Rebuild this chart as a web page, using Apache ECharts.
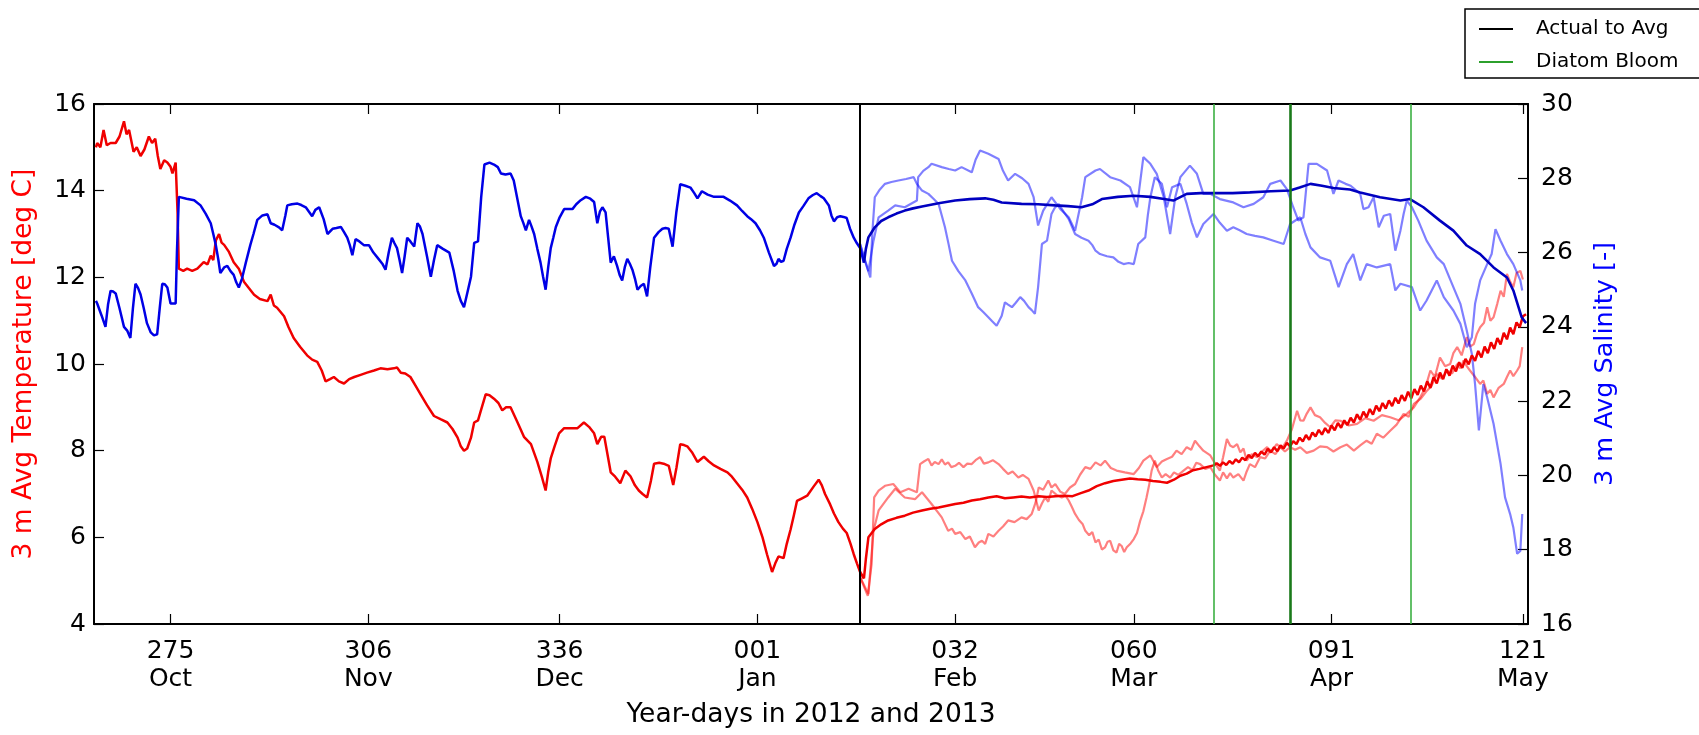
<!DOCTYPE html>
<html>
<head>
<meta charset="utf-8">
<script src="https://cdn.jsdelivr.net/npm/echarts@6/dist/echarts.min.js"></script>
<style>
  html, body { margin: 0; padding: 0; background: #fff; }
  #chart { width: 1699px; height: 735px; }
</style>
</head>
<body>
<div id="chart"></div>
<script>
// x ticks: continuous year-day (2013 days are offset by 366)
var tickDays = [275, 306, 336, 367, 398, 426, 457, 487];
var tickDayLabels = ['275', '306', '336', '001', '032', '060', '091', '121'];
var tickMonthLabels = ['Oct', 'Nov', 'Dec', 'Jan', 'Feb', 'Mar', 'Apr', 'May'];

var actualToAvgDay = 383;
var bloomDays = [438.5, 450.5, 469.4];

// 3 m average temperature, 2012-13 observations
var tempActual = [[263.3,15.0],[263.5,15.1],[264.0,15.0],[264.5,15.4],[265,15.05],[265.6,15.1],[266.4,15.1],[267.0,15.25],[267.7,15.6],[268.1,15.3],[268.5,15.4],[269.2,14.9],[269.7,15.0],[270.3,14.8],[270.9,14.95],[271.6,15.25],[272.1,15.1],[272.6,15.2],[273.0,14.8],[273.4,14.5],[274.0,14.7],[274.5,14.65],[275.0,14.55],[275.3,14.4],[275.8,14.65],[276.1,13.5],[276.3,12.2],[277.0,12.15],[277.6,12.2],[278.4,12.15],[279.2,12.2],[280.2,12.35],[280.8,12.3],[281.3,12.5],[281.7,12.4],[282.1,12.85],[282.6,13.0],[283.0,12.8],[283.4,12.75],[284.1,12.6],[284.9,12.35],[285.7,12.2],[286.5,11.9],[287.3,11.75],[288.1,11.6],[289.0,11.5],[290.2,11.45],[290.7,11.6],[291.2,11.35],[291.7,11.3],[292.8,11.1],[293.5,10.85],[294.3,10.6],[295.3,10.4],[296.4,10.2],[297.2,10.1],[298.0,10.05],[298.7,9.85],[299.3,9.6],[300.0,9.65],[300.6,9.7],[301.4,9.6],[302.2,9.55],[303.0,9.65],[303.8,9.7],[304.8,9.75],[305.8,9.8],[306.9,9.85],[307.9,9.9],[309.0,9.88],[310.0,9.9],[310.5,9.92],[311.1,9.8],[311.8,9.78],[312.6,9.7],[313.4,9.5],[314.2,9.3],[315.2,9.05],[316.3,8.8],[317.4,8.72],[318.4,8.65],[319.2,8.5],[320.0,8.3],[320.5,8.1],[321.0,8.0],[321.5,8.05],[322.1,8.3],[322.6,8.65],[323.2,8.7],[323.6,8.9],[324.4,9.3],[325.0,9.28],[325.7,9.2],[326.4,9.1],[327.0,8.93],[327.6,9.0],[328.3,9.0],[329.4,8.65],[330.4,8.32],[331.5,8.15],[332.5,7.74],[333.2,7.4],[333.8,7.08],[334.2,7.5],[334.6,7.82],[335.2,8.1],[335.9,8.4],[336.7,8.52],[337.8,8.52],[338.8,8.52],[339.8,8.65],[340.6,8.55],[341.4,8.4],[341.9,8.15],[342.5,8.32],[343.0,8.32],[344.0,7.5],[344.7,7.4],[345.5,7.25],[346.3,7.54],[347.1,7.41],[347.8,7.2],[348.4,7.08],[349.0,7.0],[349.7,6.92],[350.3,7.3],[350.8,7.7],[351.6,7.72],[352.3,7.7],[353.1,7.65],[353.8,7.21],[354.3,7.6],[354.9,8.15],[355.5,8.13],[356.0,8.1],[356.8,7.95],[357.6,7.74],[358.6,7.86],[359.4,7.75],[360.2,7.66],[361.2,7.58],[362.3,7.5],[363.0,7.4],[363.8,7.25],[364.6,7.1],[365.4,6.92],[366.2,6.65],[367.0,6.35],[367.8,6.0],[368.5,5.61],[369.3,5.2],[369.8,5.4],[370.3,5.56],[371.1,5.52],[371.6,5.85],[372.2,6.18],[372.7,6.5],[373.2,6.84],[374.0,6.9],[374.8,6.96],[375.8,7.17],[376.6,7.33],[377.1,7.2],[377.6,7.0],[378.4,6.76],[379.0,6.55],[379.7,6.35],[380.4,6.2],[381.0,6.1],[381.6,5.85],[382.1,5.61],[382.6,5.4],[383.1,5.2],[383.7,5.05]];

// average temperature continued past the actual data
var tempAvg = [[383.7,5.05],[384.0,5.5],[384.4,6.0],[385.4,6.19],[386.4,6.3],[387.5,6.39],[388.8,6.45],[390.1,6.5],[391.4,6.57],[392.8,6.62],[394.1,6.66],[395.4,6.69],[396.7,6.73],[398.0,6.77],[399.3,6.8],[400.6,6.85],[401.9,6.88],[403.2,6.92],[404.5,6.95],[405.8,6.9],[407.1,6.92],[408.4,6.94],[409.7,6.92],[411.1,6.95],[412.4,6.93],[413.7,6.95],[415.0,6.96],[416.4,6.95],[417.7,7.02],[418.9,7.08],[420.2,7.18],[421.5,7.25],[422.8,7.3],[424.1,7.33],[425.4,7.36],[426.6,7.34],[427.8,7.33],[429.0,7.3],[430.2,7.28],[431.2,7.26],[432.3,7.33],[433.3,7.42],[434.3,7.47],[435.3,7.55],[436.3,7.58],[437.4,7.62],[438.5,7.66],[439.0,7.71],[439.5,7.65],[440.0,7.73],[440.5,7.67],[441.0,7.76],[441.5,7.7],[442.0,7.8],[442.5,7.73],[443.0,7.84],[443.5,7.78],[444.0,7.9],[444.5,7.83],[445.0,7.95],[445.5,7.87],[446.0,7.98],[446.5,7.91],[447.0,8.04],[447.5,7.96],[448.0,8.08],[448.5,7.99],[449.0,8.12],[449.5,8.05],[450.0,8.18],[450.5,8.1],[451.0,8.22],[451.5,8.15],[452.0,8.3],[452.5,8.21],[453.0,8.36],[453.5,8.25],[454.0,8.42],[454.5,8.33],[455.0,8.48],[455.5,8.37],[456.0,8.52],[456.5,8.41],[457.0,8.58],[457.5,8.47],[458.0,8.64],[458.5,8.53],[459.0,8.7],[459.5,8.59],[460.0,8.76],[460.5,8.65],[461.0,8.84],[461.5,8.71],[462.0,8.9],[462.5,8.77],[463.0,8.96],[463.5,8.83],[464.0,9.04],[464.5,8.91],[465.0,9.1],[465.5,8.97],[466.0,9.16],[466.5,9.03],[467.0,9.22],[467.5,9.09],[468.0,9.28],[468.5,9.15],[469.0,9.36],[469.5,9.21],[470.0,9.42],[470.5,9.29],[471.0,9.5],[471.5,9.37],[472.0,9.6],[472.5,9.45],[473.0,9.7],[473.5,9.55],[474.0,9.8],[474.5,9.65],[475.0,9.88],[475.5,9.73],[476.0,9.96],[476.5,9.83],[477.0,10.04],[477.5,9.91],[478.0,10.12],[478.5,9.99],[479.0,10.2],[479.5,10.07],[480.0,10.3],[480.5,10.15],[481.0,10.4],[481.5,10.25],[482.0,10.5],[482.5,10.35],[483.0,10.6],[483.5,10.45],[484.0,10.72],[484.5,10.57],[485.0,10.84],[485.5,10.69],[486.0,10.96],[486.5,10.85],[487.0,11.1],[487.5,11.15]];

// earlier years, same period
var tempYearA = [[383.1,5.08],[384.3,4.65],[384.9,5.38],[385.3,6.92],[386.0,7.08],[387.0,7.19],[388.3,7.23],[389.4,7.04],[390.7,7.12],[392.0,7.04],[392.5,7.69],[393.1,7.75],[393.8,7.81],[394.3,7.66],[394.8,7.74],[395.4,7.69],[395.9,7.8],[396.4,7.68],[396.9,7.73],[397.4,7.62],[398.0,7.65],[398.6,7.72],[399.3,7.62],[399.9,7.7],[400.6,7.69],[401.2,7.78],[401.9,7.85],[402.5,7.7],[403.2,7.73],[403.9,7.78],[404.8,7.69],[405.5,7.58],[406.3,7.46],[407.0,7.52],[407.9,7.38],[408.6,7.44],[409.5,7.35],[410.3,7.08],[411.1,6.62],[411.6,6.78],[412.1,6.92],[412.6,6.82],[413.1,7.08],[413.9,6.98],[414.7,6.92],[415.3,6.96],[415.8,6.85],[416.3,6.7],[416.8,6.54],[417.4,6.4],[418.0,6.3],[418.4,6.15],[419.0,6.05],[419.5,6.12],[420.0,5.88],[420.5,5.95],[421.0,5.72],[421.5,5.77],[421.9,5.9],[422.3,5.92],[422.8,5.7],[423.3,5.65],[423.7,5.85],[424.1,5.8],[424.5,5.66],[424.9,5.77],[425.5,5.86],[426.0,5.96],[426.5,6.1],[427.0,6.38],[427.5,6.6],[428.0,6.92],[428.4,7.2],[428.8,7.54],[429.3,7.77],[429.8,7.55],[430.4,7.38],[431.0,7.46],[431.7,7.38],[432.3,7.5],[433.0,7.44],[433.8,7.54],[434.5,7.62],[435.2,7.55],[435.8,7.72],[436.4,7.69],[437.2,7.58],[438.0,7.62],[438.7,7.45],[439.5,7.31],[440.0,7.5],[440.6,7.36],[441.1,7.48],[441.6,7.38],[442.4,7.46],[443.2,7.31],[443.7,7.52],[444.2,7.69],[445.0,7.62],[445.8,7.85],[446.6,7.82],[447.4,8.0],[448.2,7.92],[449.0,8.08],[449.7,7.98],[450.5,8.08],[451.3,8.02],[452.1,8.08],[453.1,7.95],[454.2,8.0],[455.2,8.1],[456.3,8.08],[457.3,7.98],[458.4,8.08],[459.4,8.14],[460.5,8.0],[461.5,8.12],[462.5,8.23],[463.3,8.16],[464.1,8.39],[465.1,8.3],[466.2,8.46],[467.2,8.6],[468.3,8.85],[469.1,8.78],[469.9,9.08],[471.0,9.2],[472.0,9.39],[472.7,9.5],[473.5,9.77],[474.3,9.66],[475.1,9.85],[475.9,9.78],[476.7,10.0],[477.2,9.9],[477.7,10.08],[478.2,9.95],[478.7,9.85],[479.5,9.7],[480.3,9.54],[480.8,9.62],[481.4,9.31],[481.9,9.4],[482.4,9.23],[483.2,9.45],[484.0,9.54],[484.5,9.7],[485.0,9.85],[485.5,9.72],[486.1,9.85],[486.5,9.95],[486.9,10.39]];
var tempYearB = [[383.1,5.08],[384.4,4.69],[385.2,6.15],[386.0,6.62],[387.5,6.92],[388.6,7.12],[390.1,6.92],[391.7,6.88],[392.8,7.04],[394.3,6.77],[395.9,6.46],[396.9,6.15],[397.5,6.2],[398.0,6.08],[398.8,6.12],[399.6,5.96],[400.3,6.02],[401.1,5.77],[401.7,5.88],[402.2,5.92],[402.7,5.85],[403.2,6.08],[404.0,6.02],[404.8,6.15],[405.5,6.25],[406.3,6.39],[407.3,6.35],[408.4,6.46],[409.2,6.42],[410.0,6.54],[410.6,6.8],[411.1,7.15],[411.8,7.1],[412.6,7.31],[413.1,7.15],[413.7,7.23],[414.5,7.05],[415.2,7.0],[416.0,7.15],[416.8,7.23],[417.6,7.45],[418.4,7.62],[419.2,7.58],[420.0,7.73],[420.8,7.66],[421.5,7.77],[422.4,7.6],[423.3,7.54],[424.6,7.5],[426.0,7.46],[426.8,7.6],[427.5,7.77],[428.6,7.89],[429.6,7.62],[430.4,7.75],[431.2,7.81],[432.0,7.86],[432.7,8.0],[433.5,7.92],[434.3,8.08],[435.0,8.02],[435.6,8.23],[436.3,8.1],[436.9,8.0],[438.0,7.89],[438.8,7.69],[439.5,7.54],[440.0,7.85],[440.6,8.27],[441.1,8.12],[441.6,8.08],[442.2,8.15],[442.7,7.96],[443.2,8.05],[443.7,7.77],[444.5,7.92],[445.3,7.85],[446.1,7.98],[446.9,8.08],[447.6,7.98],[448.4,8.15],[449.2,8.05],[450.0,8.23],[450.8,8.5],[451.6,8.92],[452.1,8.7],[452.6,8.69],[453.1,8.85],[453.7,9.0],[454.4,8.82],[455.2,8.77],[456.0,8.64],[456.8,8.54],[457.6,8.7],[458.4,8.69],[459.7,8.58],[461.0,8.62],[462.3,8.75],[463.6,8.69],[464.9,8.82],[466.2,8.77],[467.5,8.7],[468.8,8.85],[469.9,9.0],[470.9,9.23],[471.7,9.45],[472.5,9.85],[473.2,9.7],[474.0,10.15],[474.8,9.95],[475.6,10.0],[476.1,10.25],[476.7,10.39],[477.4,10.2],[478.2,10.62],[478.7,10.4],[479.3,10.46],[479.8,10.7],[480.3,10.85],[480.9,10.95],[481.4,11.31],[481.9,11.0],[482.4,11.08],[483.0,11.4],[483.5,11.69],[484.0,11.55],[484.5,12.08],[485.0,11.9],[485.5,11.77],[486.0,12.1],[486.6,12.15],[487.0,11.95]];

// 3 m average salinity
var salActual = [[263.3,24.7],[263.5,24.63],[264.2,24.3],[264.8,24.0],[265.2,24.6],[265.6,24.97],[266.0,24.95],[266.4,24.9],[267.0,24.5],[267.7,24.0],[268.2,23.9],[268.7,23.7],[269.1,24.5],[269.5,25.16],[269.9,25.05],[270.3,24.87],[270.8,24.5],[271.3,24.1],[271.9,23.85],[272.4,23.77],[272.9,23.8],[273.3,24.5],[273.7,25.16],[274.1,25.15],[274.5,25.06],[275.0,24.63],[275.8,24.63],[276.0,26.0],[276.3,27.5],[277.5,27.45],[278.7,27.41],[279.7,27.27],[280.5,27.05],[281.3,26.79],[281.7,26.5],[282.1,26.2],[282.5,25.8],[282.8,25.45],[283.4,25.6],[283.9,25.64],[284.4,25.5],[284.9,25.4],[285.3,25.2],[285.7,25.06],[286.2,25.3],[286.8,25.73],[287.5,26.2],[288.0,26.5],[288.6,26.88],[289.4,27.0],[290.2,27.03],[290.7,26.79],[291.3,26.75],[292.0,26.68],[292.5,26.6],[293.0,27.0],[293.3,27.27],[294.0,27.3],[294.9,27.32],[295.5,27.28],[296.2,27.22],[297.2,26.98],[297.7,27.15],[298.3,27.22],[299.0,26.9],[299.6,26.5],[300.4,26.64],[301.0,26.66],[301.7,26.69],[302.2,26.55],[302.7,26.4],[303.1,26.2],[303.5,25.93],[304.0,26.36],[304.6,26.3],[305.3,26.2],[306.1,26.2],[306.8,26.0],[307.6,25.83],[308.2,25.7],[308.7,25.54],[309.2,26.0],[309.7,26.4],[310.1,26.25],[310.5,26.12],[310.9,25.8],[311.3,25.45],[311.7,25.9],[312.1,26.4],[312.6,26.3],[313.2,26.16],[313.7,26.79],[314.1,26.7],[314.5,26.5],[315.2,25.9],[315.8,25.35],[316.3,25.8],[316.8,26.2],[317.7,26.1],[318.7,26.0],[319.4,25.5],[320.0,24.97],[320.5,24.7],[321.0,24.53],[321.5,24.9],[322.1,25.35],[322.6,26.26],[323.2,26.3],[323.7,27.5],[324.2,28.37],[325.0,28.42],[325.7,28.37],[326.3,28.3],[326.8,28.13],[327.5,28.1],[328.3,28.13],[328.8,27.94],[329.3,27.5],[329.9,26.98],[330.3,26.8],[330.7,26.6],[331.2,26.88],[331.6,26.7],[332.0,26.5],[332.5,26.1],[333.0,25.73],[333.4,25.35],[333.8,25.0],[334.2,25.6],[334.6,26.12],[335.0,26.4],[335.4,26.69],[336.0,26.95],[336.7,27.17],[337.4,27.17],[338.0,27.17],[338.6,27.3],[339.3,27.41],[340.1,27.5],[340.8,27.45],[341.4,27.36],[341.9,26.79],[342.3,27.1],[342.7,27.22],[343.2,27.08],[343.6,26.4],[344.0,25.73],[344.5,25.9],[345.0,25.64],[345.4,25.4],[345.8,25.25],[346.2,25.6],[346.6,25.83],[347.0,25.7],[347.4,25.54],[347.8,25.3],[348.2,25.0],[348.7,25.1],[349.2,25.16],[349.7,24.82],[350.2,25.6],[350.8,26.4],[351.5,26.55],[352.1,26.64],[352.6,26.66],[353.1,26.64],[353.7,26.16],[354.3,27.1],[354.9,27.84],[355.7,27.8],[356.5,27.75],[357.1,27.6],[357.6,27.46],[358.3,27.65],[359.2,27.56],[360.2,27.5],[361.0,27.5],[361.7,27.5],[362.7,27.4],[363.8,27.27],[364.6,27.12],[365.4,26.98],[366.0,26.9],[366.7,26.79],[367.4,26.6],[368.0,26.4],[368.8,26.0],[369.6,25.64],[370.0,25.7],[370.3,25.83],[370.7,25.75],[371.1,25.78],[371.6,26.1],[372.2,26.4],[372.8,26.75],[373.5,27.08],[374.2,27.25],[375.0,27.46],[375.7,27.55],[376.3,27.6],[376.9,27.52],[377.4,27.46],[378.2,27.27],[378.6,27.0],[379.0,26.84],[379.5,26.95],[380.0,26.98],[380.5,26.96],[381.0,26.93],[381.5,26.65],[382.1,26.4],[382.6,26.25],[383.1,26.12],[383.7,25.73]];

var salAvg = [[383.7,25.73],[384.0,26.1],[384.4,26.41],[385.4,26.68],[386.4,26.85],[387.5,26.95],[388.8,27.05],[390.1,27.13],[391.4,27.19],[392.8,27.24],[395.4,27.33],[398.0,27.4],[400.3,27.44],[402.7,27.46],[404.0,27.42],[405.3,27.35],[408.4,27.31],[411.0,27.3],[413.7,27.27],[415.7,27.25],[417.8,27.22],[419.5,27.3],[421.0,27.44],[423.5,27.5],[426.0,27.53],[428.6,27.5],[430.5,27.45],[432.2,27.4],[434.3,27.58],[436.5,27.6],[438.5,27.6],[441.5,27.6],[444.2,27.62],[447.5,27.65],[450.5,27.67],[452.0,27.75],[453.7,27.85],[455.5,27.8],[457.3,27.74],[459.9,27.7],[461.5,27.62],[464.6,27.49],[467.8,27.4],[469.3,27.44],[471.4,27.22],[474.0,26.86],[476.1,26.59],[478.2,26.19],[480.3,25.96],[482.4,25.6],[484.5,25.33],[485.5,24.98],[486.8,24.26],[487.5,24.1]];

var salYearA = [[383.1,26.23],[383.8,25.8],[384.7,25.33],[385.0,26.5],[385.4,27.49],[386.2,27.7],[387.0,27.85],[388.0,27.9],[389.1,27.94],[390.3,27.98],[391.5,28.03],[392.0,27.85],[392.8,27.67],[393.8,27.58],[394.6,27.45],[395.4,27.31],[395.9,27.0],[396.4,26.68],[397.0,26.2],[397.5,25.78],[398.5,25.5],[399.6,25.25],[400.6,24.9],[401.6,24.53],[402.4,24.4],[403.2,24.26],[403.8,24.15],[404.5,24.03],[405.0,24.2],[405.3,24.3],[405.8,24.66],[406.3,24.6],[406.9,24.53],[407.5,24.65],[408.2,24.8],[408.8,24.7],[409.5,24.53],[410.0,24.45],[410.5,24.35],[411.0,25.07],[411.6,26.23],[412.4,26.32],[413.1,27.04],[413.6,27.2],[414.2,27.31],[415.0,27.1],[415.8,26.9],[416.3,26.7],[416.8,26.5],[417.8,26.4],[418.9,26.32],[419.5,26.2],[420.0,26.05],[420.7,25.96],[421.8,25.9],[422.8,25.87],[423.6,25.75],[424.4,25.69],[425.2,25.72],[426.0,25.69],[426.7,26.23],[427.8,26.41],[428.2,27.0],[428.6,27.49],[429.3,28.03],[430.4,27.85],[431.2,27.22],[432.0,27.76],[433.3,27.85],[434.3,27.31],[435.1,26.8],[435.9,26.41],[436.9,26.77],[438.5,27.04],[439.5,26.8],[440.6,26.59],[441.6,26.68],[442.6,26.6],[443.7,26.5],[445.0,26.45],[446.3,26.41],[447.9,26.32],[449.5,26.23],[450.5,26.77],[452.1,26.95],[452.9,26.5],[453.7,26.14],[455.2,25.87],[456.8,25.78],[457.5,25.4],[458.1,25.07],[459.4,25.69],[460.4,25.96],[461.5,25.25],[462.5,25.69],[464.1,25.6],[466.2,25.69],[467.0,24.98],[467.8,25.16],[469.6,25.07],[470.9,24.44],[471.9,24.71],[473.5,25.25],[474.6,24.8],[476.1,24.44],[477.2,24.08],[478.2,23.45],[479.0,23.72],[479.5,24.62],[480.3,25.25],[481.4,25.69],[482.1,25.96],[482.7,26.63],[483.5,26.32],[484.5,25.96],[485.5,25.69],[486.6,25.25],[486.9,24.98]];
var salYearB = [[383.1,26.23],[384.4,25.5],[385.2,26.32],[386.0,26.95],[387.5,27.13],[388.6,27.27],[390.1,27.22],[392.0,27.4],[392.2,28.03],[393.0,28.2],[393.8,28.3],[394.3,28.39],[395.9,28.3],[397.0,28.25],[398.0,28.21],[399.0,28.3],[400.6,28.16],[401.2,28.5],[401.9,28.75],[403.2,28.66],[404.8,28.52],[405.5,28.2],[406.3,27.94],[407.4,28.12],[408.5,28.0],[409.5,27.85],[410.3,27.49],[411.0,26.73],[411.8,27.13],[413.1,27.49],[414.5,27.17],[415.8,26.95],[416.8,26.59],[417.9,27.49],[418.4,28.03],[420.0,28.21],[420.7,28.25],[422.3,28.03],[423.9,27.94],[425.4,27.76],[426.5,27.22],[427.5,28.57],[428.6,28.39],[429.6,28.12],[430.7,27.49],[431.7,26.5],[432.5,27.49],[433.3,28.03],[434.8,28.34],[435.9,28.12],[436.9,27.58],[438.0,27.58],[439.5,27.44],[441.6,27.35],[443.2,27.22],[444.8,27.31],[446.3,27.49],[447.4,27.85],[449.0,27.94],[450.0,27.71],[451.0,27.22],[451.8,26.86],[452.6,26.95],[453.4,28.39],[454.7,28.39],[456.3,28.21],[457.3,27.58],[458.1,27.94],[459.2,27.85],[460.0,27.8],[461.5,27.58],[462.0,27.17],[462.8,27.22],[463.6,27.49],[464.4,26.68],[465.2,26.99],[466.2,27.04],[467.0,26.05],[467.8,26.59],[468.3,27.04],[468.8,27.4],[469.6,27.22],[470.6,26.86],[471.9,26.32],[473.5,25.87],[474.6,25.69],[476.1,25.07],[477.2,24.62],[478.2,23.9],[479.0,23.27],[479.5,22.46],[480.1,21.21],[480.8,22.46],[481.4,22.1],[482.4,21.39],[483.5,20.31],[484.2,19.41],[485.0,18.96],[485.5,18.6],[486.1,17.89],[486.6,17.97],[486.9,18.96]];

var FONT = 'DejaVu Sans';

function lineSeries(name, data, color, yIdx, width) {
    return {
        name: name, type: 'line', data: data, yAxisIndex: yIdx,
        showSymbol: false, symbol: 'none', silent: true,
        color: color,
        lineStyle: { color: color, width: width }
    };
}

function tickLabel(v) {
    var i = tickDays.indexOf(Math.round(v));
    return i < 0 ? '' : tickDayLabels[i] + '\n' + tickMonthLabels[i];
}

var chart = echarts.init(document.getElementById('chart'));
chart.setOption({
    animation: false,
    backgroundColor: '#fff',
    textStyle: { fontFamily: FONT },
    grid: { left: 94, right: 171, top: 104, bottom: 111 },
    // legend frame runs off the right edge, as in the original
    graphic: [{
        type: 'rect', x: 1465, y: 9, z: 5,
        shape: { x: 0, y: 0, width: 260, height: 69 },
        style: { fill: '#fff', stroke: '#000', lineWidth: 1.5 }
    }],
    legend: {
        data: ['Actual to Avg', 'Diatom Bloom'],
        orient: 'vertical', left: 1465, top: 9, z: 10,
        icon: 'rect', itemWidth: 34, itemHeight: 2, itemGap: 13,
        selectedMode: false,
        padding: [10, 4, 6, 14],
        textStyle: { fontFamily: FONT, fontSize: 20, color: '#000', padding: [0, 0, 0, 18], lineHeight: 20 }
    },
    xAxis: [{
        type: 'value', min: 263, max: 487.8, position: 'bottom',
        name: 'Year-days in 2012 and 2013', nameLocation: 'middle', nameGap: 78,
        nameTextStyle: { fontFamily: FONT, fontSize: 26.5, color: '#000' },
        axisLine: { lineStyle: { color: '#000', width: 2 } },
        axisTick: { inside: true, length: 10, customValues: tickDays, lineStyle: { color: '#000', width: 1.2 } },
        axisLabel: { customValues: tickDays, formatter: tickLabel, fontFamily: FONT, fontSize: 25, lineHeight: 28, color: '#000', margin: 13 },
        splitLine: { show: false }
    }, {
        type: 'value', min: 263, max: 487.8, position: 'top',
        axisLine: { lineStyle: { color: '#000', width: 2 } },
        axisTick: { inside: true, length: 10, customValues: tickDays, lineStyle: { color: '#000', width: 1.2 } },
        axisLabel: { show: false },
        splitLine: { show: false }
    }],
    yAxis: [{
        type: 'value', min: 4, max: 16, interval: 2, position: 'left',
        name: '3 m Avg Temperature [deg C]', nameLocation: 'middle', nameGap: 56, nameRotate: 90,
        nameTextStyle: { fontFamily: FONT, fontSize: 26.5, color: '#ff0000' },
        axisLine: { show: true, lineStyle: { color: '#000', width: 2 } },
        axisTick: { inside: true, length: 10, lineStyle: { color: '#000', width: 1.2 } },
        axisLabel: { fontFamily: FONT, fontSize: 25, color: '#000', margin: 8 },
        splitLine: { show: false }
    }, {
        type: 'value', min: 16, max: 30, interval: 2, position: 'right',
        name: '3 m Avg Salinity [-]', nameLocation: 'middle', nameGap: 64, nameRotate: 90,
        nameTextStyle: { fontFamily: FONT, fontSize: 25.5, color: '#0000ff' },
        axisLine: { show: true, lineStyle: { color: '#000', width: 2 } },
        axisTick: { inside: true, length: 10, lineStyle: { color: '#000', width: 1.2 } },
        axisLabel: { fontFamily: FONT, fontSize: 25, color: '#000', margin: 13 },
        splitLine: { show: false }
    }],
    series: [
        lineSeries('tempYearA', tempYearA, 'rgba(255,0,0,0.5)', 0, 2.2),
        lineSeries('tempYearB', tempYearB, 'rgba(255,0,0,0.5)', 0, 2.2),
        lineSeries('salYearA', salYearA, 'rgba(0,0,255,0.5)', 1, 2.2),
        lineSeries('salYearB', salYearB, 'rgba(0,0,255,0.5)', 1, 2.2),
        lineSeries('tempActual', tempActual, '#f00000', 0, 2.5),
        lineSeries('tempAvg', tempAvg, '#f00000', 0, 2.5),
        lineSeries('salActual', salActual, '#0000e6', 1, 2.5),
        lineSeries('salAvg', salAvg, '#0000c0', 1, 2.6),
        {
            name: 'Actual to Avg', type: 'line', data: [], color: '#000',
            markLine: {
                symbol: 'none', silent: true, label: { show: false },
                lineStyle: { color: '#000', width: 2, type: 'solid' },
                data: [{ xAxis: actualToAvgDay }]
            }
        },
        {
            name: 'Diatom Bloom', type: 'line', data: [], color: '#2ca02c',
            markLine: {
                symbol: 'none', silent: true, label: { show: false },
                lineStyle: { color: '#3cb043', width: 1.6, type: 'solid' },
                data: bloomDays.map(function (d, i) {
                    return i === 1 ? { xAxis: d, lineStyle: { color: '#1a7a1a', width: 2.6 } } : { xAxis: d };
                })
            }
        }
    ]
});
</script>
</body>
</html>
